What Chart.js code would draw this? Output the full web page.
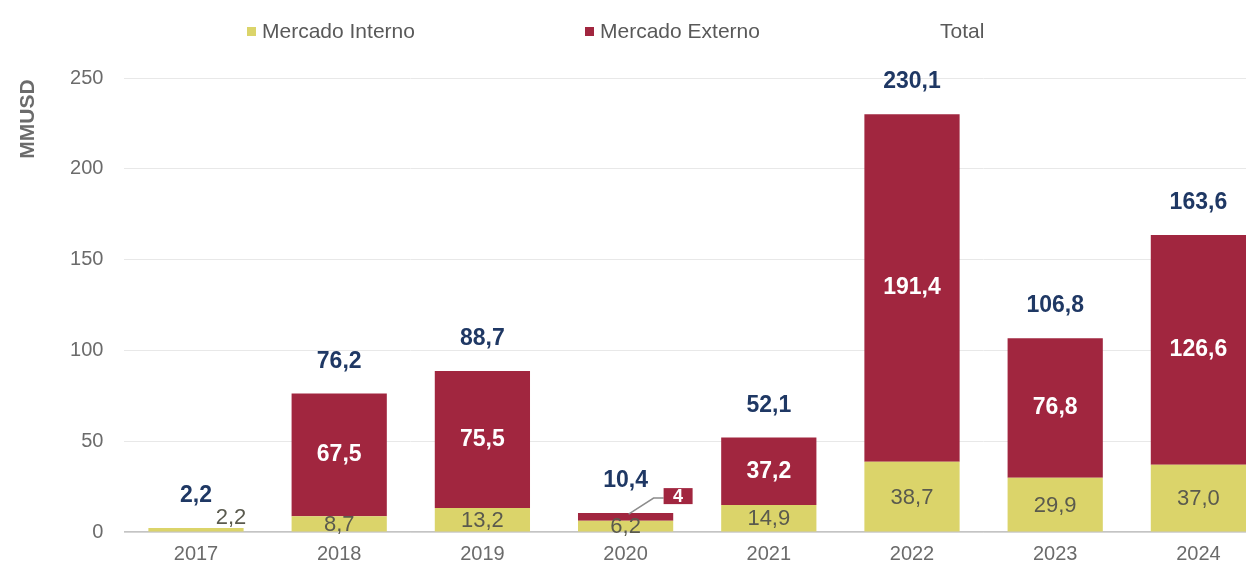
<!DOCTYPE html>
<html>
<head>
<meta charset="utf-8">
<script src="https://cdn.jsdelivr.net/npm/chart.js@4.4.1/dist/chart.umd.min.js"></script>
<style>
  body { margin: 0; background: #fff; }
  .wrap { width: 1246px; height: 569px; overflow: hidden; }
</style>
</head>
<body>
<div class="wrap"><canvas id="chart" width="1272" height="569"></canvas></div>
<script>
const categories = ['2017', '2018', '2019', '2020', '2021', '2022', '2023', '2024'];
const mercadoInterno = [2.2, 8.7, 13.2, 6.2, 14.9, 38.7, 29.9, 37.0];
const mercadoExterno = [0, 67.5, 75.5, 4.2, 37.2, 191.4, 76.8, 126.6];
const total = [2.2, 76.2, 88.7, 10.4, 52.1, 230.1, 106.8, 163.6];
const yTicks = [0, 50, 100, 150, 200, 250];

const FONT = '"Liberation Sans", Arial, sans-serif';
const GREY = '#6b6b6b';
const RED = '#A1263F';
const YELLOW = '#DBD46A';
const BLUE = '#1F3864';

const fmt = v => v.toFixed(1).replace('.', ',');

// legend + axis title + value labels
const decorations = {
  id: 'decorations',
  afterDatasetsDraw(chart) {
    const ctx = chart.ctx;
    const interno = chart.getDatasetMeta(0).data;
    const externo = chart.getDatasetMeta(1).data;
    const tot = chart.getDatasetMeta(2).data;
    ctx.save();
    ctx.textAlign = 'center';
    ctx.textBaseline = 'middle';

    interno.forEach((el, i) => {
      const v = mercadoInterno[i];
      const h = el.base - el.y;
      ctx.font = '22px ' + FONT;
      ctx.fillStyle = '#5a5a4e';
      if (h < 10) ctx.fillText(fmt(v), el.x + 35, el.base - 14);
      else ctx.fillText(fmt(v), el.x, (el.y + el.base) / 2 + 1);
    });

    externo.forEach((el, i) => {
      const v = mercadoExterno[i];
      if (!v) return;
      const h = el.base - el.y;
      if (h < 14) {
        // callout for a thin segment
        ctx.strokeStyle = '#8c8c8c';
        ctx.lineWidth = 1.5;
        ctx.beginPath();
        ctx.moveTo(el.x + 3, el.y + 1);
        ctx.lineTo(el.x + 28, el.y - 15);
        ctx.lineTo(el.x + 38, el.y - 15);
        ctx.stroke();
        ctx.fillStyle = RED;
        ctx.fillRect(el.x + 38, el.y - 25, 29, 16);
        ctx.fillStyle = '#fff';
        ctx.font = 'bold 18px ' + FONT;
        ctx.fillText(String(Math.round(v)), el.x + 52.5, el.y - 16.5);
      } else {
        ctx.font = 'bold 23px ' + FONT;
        ctx.fillStyle = '#fff';
        ctx.fillText(fmt(v), el.x, (el.y + el.base) / 2);
      }
    });

    tot.forEach((pt, i) => {
      ctx.font = 'bold 23px ' + FONT;
      ctx.fillStyle = BLUE;
      ctx.fillText(fmt(total[i]), pt.x, pt.y - 32);
    });

    // axis title
    ctx.save();
    ctx.translate(28, 119);
    ctx.rotate(-Math.PI / 2);
    ctx.font = 'bold 21px ' + FONT;
    ctx.fillStyle = GREY;
    ctx.fillText('MMUSD', 0, 0);
    ctx.restore();

    // legend
    const legendX = [247, 585, 925];
    ctx.textAlign = 'left';
    ctx.font = '21px ' + FONT;
    chart.data.datasets.forEach((ds, i) => {
      if (ds.type !== 'line') {
        ctx.fillStyle = ds.backgroundColor;
        ctx.fillRect(legendX[i], 27, 9, 9);
      }
      ctx.fillStyle = '#595959';
      ctx.fillText(ds.label, legendX[i] + 15, 32);
    });
    ctx.restore();
  }
};

new Chart(document.getElementById('chart').getContext('2d'), {
  type: 'bar',
  data: {
    labels: categories,
    datasets: [
      { label: 'Mercado Interno', data: mercadoInterno, backgroundColor: YELLOW, stack: 'm' },
      { label: 'Mercado Externo', data: mercadoExterno, backgroundColor: RED, stack: 'm' },
      { type: 'line', label: 'Total', data: total, stack: 'total', showLine: false,
        pointRadius: 0, pointHoverRadius: 0, backgroundColor: 'transparent', borderColor: 'transparent' }
    ]
  },
  options: {
    responsive: false,
    animation: false,
    layout: { padding: { top: 78, right: 2, bottom: 0, left: 0 } },
    datasets: { bar: { barPercentage: 0.665, categoryPercentage: 1 } },
    plugins: { legend: { display: false }, tooltip: { enabled: false } },
    scales: {
      x: {
        stacked: true,
        grid: { display: false, drawTicks: false },
        border: { color: '#c4c4c4', width: 1.5 },
        ticks: { color: GREY, font: { family: FONT, size: 20 }, padding: 10 },
        afterFit: s => { s.height = 37; }
      },
      y: {
        stacked: true,
        min: 0,
        max: yTicks[yTicks.length - 1],
        afterBuildTicks: s => { s.ticks = yTicks.map(v => ({ value: v })); },
        grid: { color: '#e8e8e8', drawTicks: false },
        border: { display: false },
        ticks: { color: GREY, font: { family: FONT, size: 20 }, padding: 21 },
        afterFit: s => { s.width = 124.4; }
      }
    }
  },
  plugins: [decorations]
});
</script>
</body>
</html>
